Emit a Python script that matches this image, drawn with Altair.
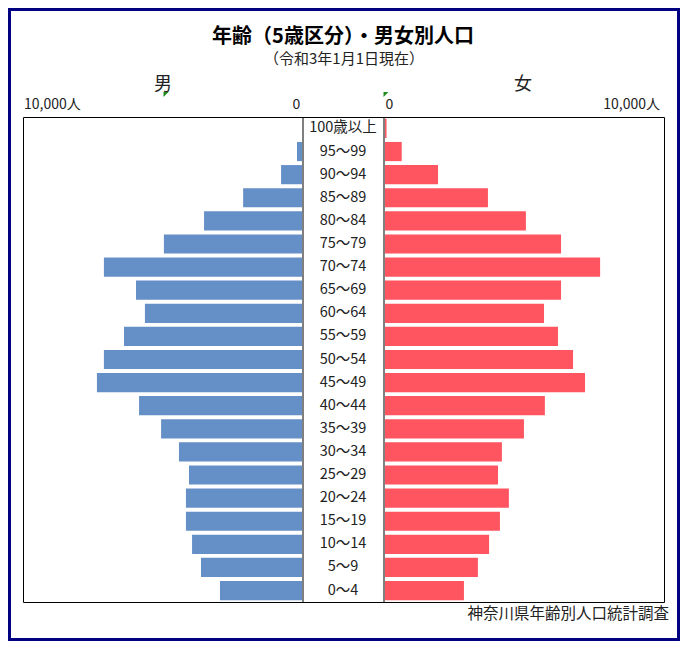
import altair as alt
import pandas as pd

# ---- data ----
AGES = ["100歳以上", "95～99", "90～94", "85～89", "80～84", "75～79", "70～74",
        "65～69", "60～64", "55～59", "50～54", "45～49", "40～44", "35～39",
        "30～34", "25～29", "20～24", "15～19", "10～14", "5～9", "0～4"]
MALE = [0, 180, 750, 2110, 3510, 4950, 7100, 5950, 5630, 6380, 7100, 7350,
        5840, 5050, 4410, 4050, 4160, 4160, 3940, 3620, 2940]
FEMALE = [55, 600, 1900, 3690, 5050, 6310, 7710, 6310, 5700, 6200, 6740, 7170,
          5730, 4980, 4190, 4050, 4440, 4120, 3730, 3330, 2830]
TITLE = "年齢（5歳区分）・男女別人口"
SUBTITLE = "（令和3年1月1日現在）"
SIDE_LABELS = ["男", "女"]
TICK_LABELS = ["10,000人", "0", "0", "10,000人"]
SOURCE = "神奈川県年齢別人口統計調査"
AXIS_MAX = 10000

df = pd.DataFrame({"age": AGES, "male": MALE, "female": FEMALE})

FONT = "Noto Sans CJK JP"
W, H = 641, 485

yenc = alt.Y("age:N", sort=AGES, axis=None,
             scale=alt.Scale(paddingInner=0.17, paddingOuter=0.08))

base = alt.Chart(df)

male = base.mark_bar(color="#658FC7").encode(
    x=alt.X("male:Q", axis=None,
            scale=alt.Scale(domain=[0, AXIS_MAX], range=[279, 0], nice=False)),
    y=yenc,
)
female = base.mark_bar(color="#FF5560").encode(
    x=alt.X("female:Q", axis=None,
            scale=alt.Scale(domain=[0, AXIS_MAX], range=[362, 641], nice=False)),
    y=yenc,
)
labels = base.mark_text(font=FONT, fontSize=14.5, color="#222", baseline="middle").encode(
    y=yenc, x=alt.value(320), text="age:N"
)


def txt(s, x, y, size, align="center", weight="normal", color="#222"):
    return alt.Chart(pd.DataFrame({"t": [s]})).mark_text(
        font=FONT, fontSize=size, fontWeight=weight, align=align,
        baseline="middle", color=color
    ).encode(text="t:N", x=alt.value(x), y=alt.value(y))


title = txt(TITLE, 320, -80, 20, weight="bold", color="#000")
subtitle = txt(SUBTITLE, 321, -58, 15)
side_m = txt(SIDE_LABELS[0], 140, -32, 18)
side_f = txt(SIDE_LABELS[1], 500, -32, 18)
t1 = txt(TICK_LABELS[0], 1, -12, 14, align="left")
t2 = txt(TICK_LABELS[1], 273.5, -12, 14)
t3 = txt(TICK_LABELS[2], 366.5, -12, 14)
t4 = txt(TICK_LABELS[3], 637, -12, 14, align="right")
source = txt(SOURCE, 646, 497, 15.5, align="right")

one = alt.Chart(pd.DataFrame({"k": [0]}))
rule_l = one.mark_rule(color="black", strokeWidth=1).encode(
    x=alt.value(280), y=alt.value(0), y2=alt.value(H))
rule_r = one.mark_rule(color="black", strokeWidth=1).encode(
    x=alt.value(361), y=alt.value(0), y2=alt.value(H))

tri_path = "M-1,-1 L1,-1 L-1,1 Z"
tri_m = one.mark_point(shape=tri_path, filled=True, color="#1E8C1E", size=25, opacity=1).encode(
    x=alt.value(143), y=alt.value(-22.5))
tri_f = one.mark_point(shape=tri_path, filled=True, color="#1E8C1E", size=25, opacity=1).encode(
    x=alt.value(363), y=alt.value(-22.5))

border = one.mark_rect(fillOpacity=0, stroke="#000080", strokeWidth=3).encode(
    x=alt.value(-13.5), x2=alt.value(655.5), y=alt.value(-107.5), y2=alt.value(522.5))

chart = alt.layer(
    male, female, labels, rule_l, rule_r, title, subtitle, side_m, side_f,
    t1, t2, t3, t4, source, tri_m, tri_f, border
).resolve_scale(x="independent").properties(
    width=W, height=H,
    padding={"left": 15, "top": 109, "right": 16, "bottom": 39},
    autosize=alt.AutoSizeParams(type="none"),
    background="white",
).configure_view(stroke="black", strokeWidth=1)

chart.save("out.html", embed_options={"renderer": "svg", "actions": False})
